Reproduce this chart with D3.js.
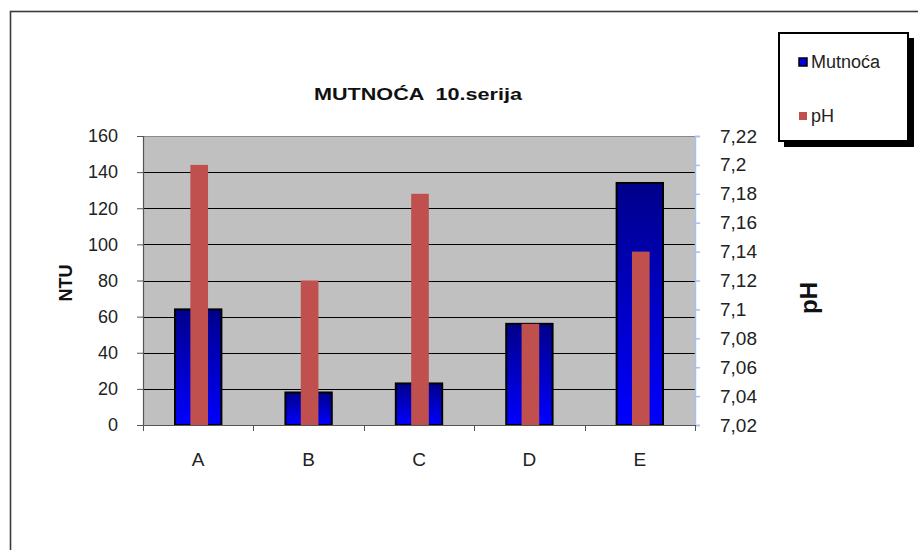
<!DOCTYPE html>
<html>
<head>
<meta charset="utf-8">
<script src="https://cdn.jsdelivr.net/npm/d3@7"></script>
<style>
  html, body { margin: 0; padding: 0; background: #fff; }
  svg { display: block; font-family: "Liberation Sans", Arial, sans-serif; }
</style>
</head>
<body>
<svg id="chart" width="918" height="550"></svg>
<script>
// Sample points and measured values
const categories = ["A", "B", "C", "D", "E"];
const turbidity = [64, 18, 23, 56, 134];          // Mutnoća, NTU
const phValues = [7.2, 7.12, 7.18, 7.09, 7.14];   // pH
const leftTicks = [0, 20, 40, 60, 80, 100, 120, 140, 160];
const rightTicks = [7.02, 7.04, 7.06, 7.08, 7.1, 7.12, 7.14, 7.16, 7.18, 7.2, 7.22];

const svg = d3.select("#chart");
const FONT = "Liberation Sans, Arial, sans-serif";

// Outer frame
svg.append("rect")
  .attr("x", 10.5).attr("y", 11.5)
  .attr("width", 930).attr("height", 560)
  .attr("fill", "#fff")
  .attr("stroke", "#3a3a3a").attr("stroke-width", 1.6);

const plot = { left: 143, right: 695, top: 136, bottom: 425 };

const x = d3.scaleBand().domain(categories).range([plot.left, plot.right]).padding(0);
const yL = d3.scaleLinear().domain([0, 160]).range([plot.bottom, plot.top]);
const yR = d3.scaleLinear().domain([7.02, 7.22]).range([plot.bottom, plot.top]);

// Gradient for turbidity bars
const defs = svg.append("defs");
const grad = defs.append("linearGradient")
  .attr("id", "blueGrad").attr("x1", 0).attr("y1", 0).attr("x2", 0).attr("y2", 1);
grad.append("stop").attr("offset", "0%").attr("stop-color", "#00008a");
grad.append("stop").attr("offset", "100%").attr("stop-color", "#0000ff");

// Plot background
svg.append("rect")
  .attr("x", plot.left).attr("y", plot.top)
  .attr("width", plot.right - plot.left).attr("height", plot.bottom - plot.top)
  .attr("fill", "#c0c0c0");

// Top border of plot area
svg.append("line")
  .attr("x1", plot.left).attr("x2", plot.right)
  .attr("y1", plot.top + 0.5).attr("y2", plot.top + 0.5)
  .attr("stroke", "#8a8a8a").attr("stroke-width", 1);

// Horizontal gridlines
svg.append("g").selectAll("line")
  .data(leftTicks.filter(d => d > 0 && d < 160))
  .join("line")
  .attr("x1", plot.left).attr("x2", plot.right)
  .attr("y1", d => Math.round(yL(d)) + 0.5).attr("y2", d => Math.round(yL(d)) + 0.5)
  .attr("stroke", "#000").attr("stroke-width", 1);

// Turbidity bars
const bw = x.bandwidth() * 0.42;
svg.append("g").selectAll("rect")
  .data(categories)
  .join("rect")
  .attr("x", (d) => x(d) + (x.bandwidth() - bw) / 2)
  .attr("y", (d, i) => yL(turbidity[i]))
  .attr("width", bw)
  .attr("height", (d, i) => yL(0) - yL(turbidity[i]))
  .attr("fill", "url(#blueGrad)")
  .attr("stroke", "#000").attr("stroke-width", 2);

// pH bars
const pw = x.bandwidth() * 0.16;
svg.append("g").selectAll("rect")
  .data(categories)
  .join("rect")
  .attr("x", (d) => x(d) + (x.bandwidth() - pw) / 2 + 1)
  .attr("y", (d, i) => yR(phValues[i]))
  .attr("width", pw)
  .attr("height", (d, i) => yR(7.02) - yR(phValues[i]))
  .attr("fill", "#c0504d");

// Left axis
const leftAxis = svg.append("g")
  .attr("transform", `translate(${plot.left},0)`)
  .call(d3.axisLeft(yL).tickValues(leftTicks).tickSize(6).tickPadding(19).tickFormat(d3.format("d")));
leftAxis.select(".domain").attr("stroke", "#555").attr("stroke-width", 1.2);
leftAxis.selectAll(".tick line").attr("stroke", "#555");
leftAxis.selectAll("text").attr("font-size", 18).attr("fill", "#222").attr("font-family", FONT);

// Right axis
const commaFmt = d => String(+d.toFixed(2)).replace(".", ",");
const rightAxis = svg.append("g")
  .attr("transform", `translate(${plot.right},0)`)
  .call(d3.axisRight(yR).tickValues(rightTicks).tickSize(5).tickPadding(20).tickFormat(commaFmt));
rightAxis.select(".domain").attr("stroke", "#a8c0ee").attr("stroke-width", 1.5);
rightAxis.selectAll(".tick line").attr("stroke", "#a8c0ee").attr("stroke-width", 1.5);
rightAxis.selectAll("text").attr("font-size", 19).attr("fill", "#222").attr("font-family", FONT);

// Bottom axis
const bottomAxis = svg.append("g")
  .attr("transform", `translate(0,${plot.bottom})`)
  .call(d3.axisBottom(x).tickSize(0).tickPadding(28));
bottomAxis.select(".domain").attr("stroke", "#555").attr("stroke-width", 1.2);
bottomAxis.selectAll("text").attr("font-size", 19).attr("fill", "#222").attr("font-family", FONT);
// Category boundary ticks
const boundaries = [plot.left].concat(categories.slice(1).map(c => x(c)), [plot.right]);
svg.append("g").selectAll("line")
  .data(boundaries)
  .join("line")
  .attr("x1", d => Math.round(d) + 0.5).attr("x2", d => Math.round(d) + 0.5)
  .attr("y1", plot.bottom).attr("y2", plot.bottom + 6)
  .attr("stroke", "#555");

// Title
svg.append("text")
  .attr("x", 314).attr("y", 100)
  .attr("font-size", 17).attr("font-weight", "bold").attr("fill", "#111")
  .attr("textLength", 208).attr("lengthAdjust", "spacingAndGlyphs")
  .attr("xml:space", "preserve")
  .text("MUTNOĆA  10.serija");

// Axis titles
svg.append("text")
  .attr("transform", "translate(72,283) rotate(-90)")
  .attr("text-anchor", "middle")
  .attr("font-size", 18).attr("font-weight", "bold").attr("fill", "#111")
  .text("NTU");
svg.append("text")
  .attr("transform", "translate(817,298) rotate(-90)")
  .attr("text-anchor", "middle")
  .attr("font-size", 24).attr("font-weight", "bold").attr("fill", "#111")
  .text("pH");

// Legend
const lg = svg.append("g");
lg.append("rect").attr("x", 784).attr("y", 38).attr("width", 130).attr("height", 109).attr("fill", "#000");
lg.append("rect").attr("x", 779).attr("y", 33).attr("width", 129).attr("height", 108)
  .attr("fill", "#fff").attr("stroke", "#000").attr("stroke-width", 2);
const legendItems = [
  { name: "Mutnoća", fill: "#0000e0", stroke: "#000" },
  { name: "pH", fill: "#c0504d", stroke: "none" }
];
legendItems.forEach((it, i) => {
  const cy = 62 + i * 54;
  lg.append("rect").attr("x", 799).attr("y", cy - 4).attr("width", 8).attr("height", 8)
    .attr("fill", it.fill).attr("stroke", it.stroke).attr("stroke-width", it.stroke === "none" ? 0 : 1.5);
  lg.append("text").attr("x", 811).attr("y", cy + 6)
    .attr("font-size", 18).attr("fill", "#222").text(it.name);
});
</script>
</body>
</html>
